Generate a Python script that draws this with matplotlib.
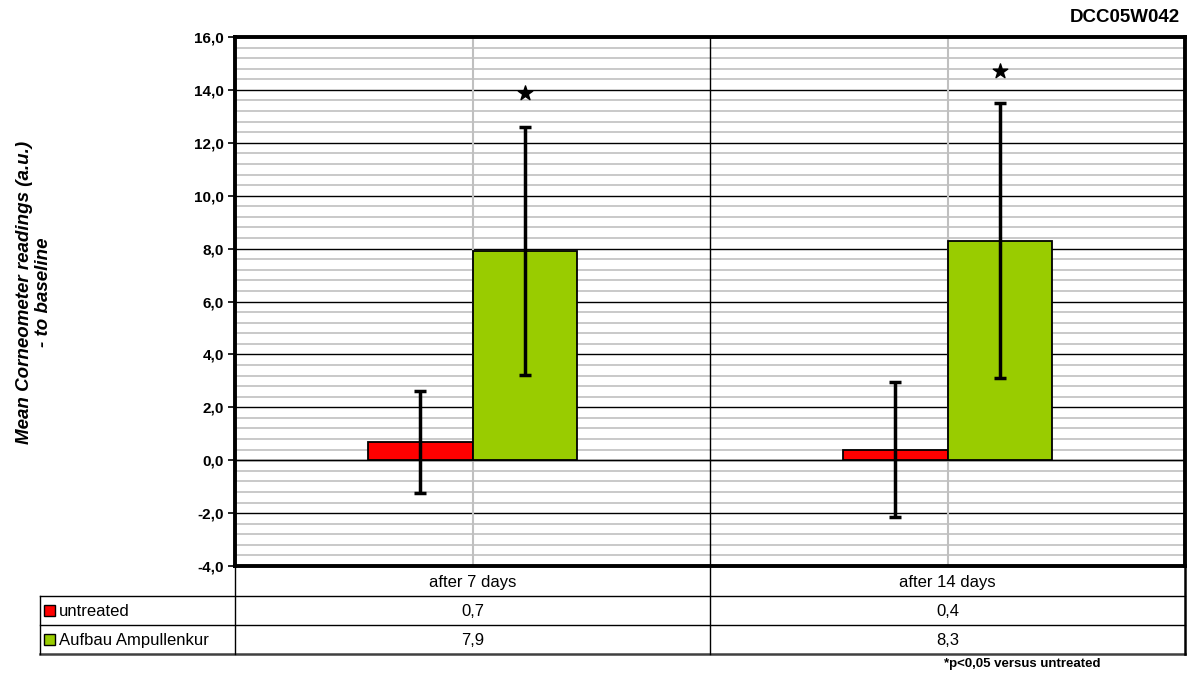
import numpy as np
import matplotlib.pyplot as plt
from matplotlib.ticker import MultipleLocator, FuncFormatter

plt.rcParams['font.family'] = ['Liberation Sans', 'DejaVu Sans']

# --- datos ---
categories = ['after 7 days', 'after 14 days']
series_names = ['untreated', 'Aufbau Ampullenkur']
series_colors = ['#ff0000', '#99cc00']
untreated = [0.7, 0.4]
aufbau = [7.9, 8.3]
untreated_err = [1.93, 2.55]
aufbau_err = [4.69, 5.2]
star_y = [13.9, 14.7]  # posición de las estrellas (p<0,05)

W, H = 1189, 678
fig = plt.figure(figsize=(W / 100, H / 100), dpi=100)

# zona del gráfico en píxeles
x0, x1, ytop, ybot = 235, 1185, 37, 566
ax = fig.add_axes([x0 / W, 1 - ybot / H, (x1 - x0) / W, (ybot - ytop) / H])
ax.set_axisbelow(True)

n = len(categories)
xpos = np.arange(n)
bw = 0.221
values = [untreated, aufbau]
errs = [untreated_err, aufbau_err]
for i, (vals, err, col) in enumerate(zip(values, errs, series_colors)):
    off = (i - 0.5) * bw
    ax.bar(xpos + off, vals, width=bw, color=col, edgecolor='black', linewidth=1.3, zorder=3)
    ax.errorbar(xpos + off, vals, yerr=err, fmt='none', ecolor='black', elinewidth=2.5,
                capsize=4, capthick=2.5, zorder=4)

ax.scatter(xpos + 0.5 * bw, star_y, marker='*', s=120, color='black', zorder=5)

ax.set_xlim(-0.5, n - 0.5)
ax.set_ylim(-4, 16)
ax.yaxis.set_major_locator(MultipleLocator(2))
ax.yaxis.set_minor_locator(MultipleLocator(0.4))
ax.yaxis.set_major_formatter(FuncFormatter(lambda v, p: f'{v:.1f}'.replace('.', ',')))
ax.grid(which='minor', axis='y', color='#c0c0c0', linewidth=1.2)
ax.grid(which='major', axis='y', color='black', linewidth=1.0)
for xc in xpos:
    ax.axvline(xc, color='#c0c0c0', linewidth=1.5, zorder=1.5)
for xb in xpos[:-1] + 0.5:
    ax.axvline(xb, color='black', linewidth=1.0, zorder=2)
ax.axhline(0, color='black', linewidth=1.0, zorder=2)

ax.set_xticks([])
ax.tick_params(axis='y', which='major', length=5, width=1.2, pad=3, labelsize=11)
ax.tick_params(axis='y', which='minor', length=0)
for t in ax.get_yticklabels():
    t.set_fontweight('bold')
for s in ax.spines.values():
    s.set_linewidth(2.8)

fig.text(34 / W, 1 - 292 / H, 'Mean Corneometer readings (a.u.)\n- to baseline',
         rotation=90, ha='center', va='center', fontsize=13.5, fontweight='bold',
         fontstyle='italic', linespacing=1.2)

fig.text(1180 / W, 1 - 18 / H, 'DCC05W042', ha='right', va='center',
         fontsize=13.5, fontweight='bold')
fig.text(1022 / W, 1 - 664 / H, '*p<0,05 versus untreated', ha='center', va='center',
         fontsize=9.5, fontweight='bold')

# --- tabla de datos bajo el gráfico ---
tx0, trow = 40, [566, 596, 625, 654]
tab = fig.add_axes([0, 0, 1, 1])
tab.set_xlim(0, W)
tab.set_ylim(H, 0)
tab.axis('off')
cw = (x1 - x0) / n
lw = 1.0
tab.plot([tx0, x1], [trow[1]] * 2, color='black', lw=lw)
tab.plot([tx0, x1], [trow[2]] * 2, color='black', lw=lw)
tab.plot([tx0, x1], [trow[3]] * 2, color='#404040', lw=1.8)
tab.plot([tx0, tx0], [trow[1], trow[3]], color='black', lw=lw)
for k in range(n + 1):
    xv = x0 + k * cw
    tab.plot([xv, xv], [trow[0], trow[3]], color='black', lw=1.8 if k == n else lw)

for k, cat in enumerate(categories):
    xc = x0 + (k + 0.5) * cw
    tab.text(xc, (trow[0] + trow[1]) / 2 + 1, cat, ha='center', va='center', fontsize=12)
    for r, vals in enumerate(values):
        tab.text(xc, (trow[r + 1] + trow[r + 2]) / 2 + 1, f'{vals[k]:.1f}'.replace('.', ','),
                 ha='center', va='center', fontsize=12)

for r, (name, col) in enumerate(zip(series_names, series_colors)):
    yc = (trow[r + 1] + trow[r + 2]) / 2
    tab.add_patch(plt.Rectangle((44, yc - 6), 11, 11, facecolor=col, edgecolor='black', lw=1))
    tab.text(59, yc + 1, name, ha='left', va='center', fontsize=12)

fig.savefig('out.png', dpi=100)
